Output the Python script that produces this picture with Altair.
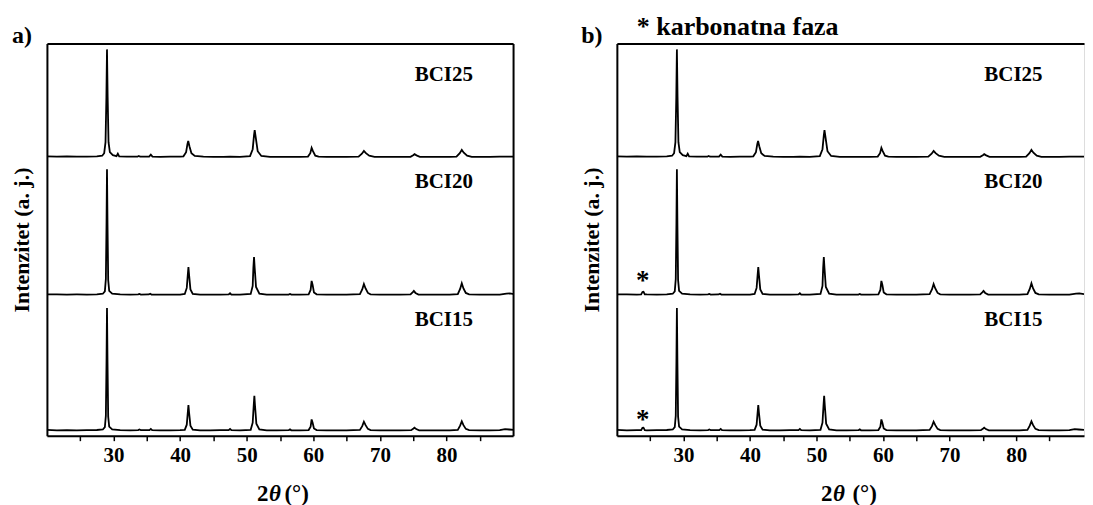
import altair as alt
import pandas as pd

SERIF = "Liberation Serif"

# ---------------- data (2theta in degrees, intensity above each trace's baseline) ----------------
x15 = [20.0, 21.5, 23.0, 24.5, 26.0, 27.5, 28.4, 28.7, 28.85, 28.95, 29.02, 29.1, 29.2, 29.35, 29.8,
       31.0, 32.5, 33.7, 33.9, 34.1, 35.4, 35.6, 35.8, 37.0, 38.5, 40.0, 40.7, 41.0, 41.15, 41.25,
       41.35, 41.55, 41.9, 43.0, 44.5, 46.0, 47.3, 47.5, 47.7, 49.0, 50.6, 50.9, 51.05, 51.15, 51.25,
       51.45, 51.9, 53.0, 54.5, 56.3, 56.5, 56.7, 58.0, 59.3, 59.6, 59.75, 59.9, 60.1, 60.5, 62.0,
       63.5, 65.0, 67.0, 67.35, 67.6, 67.85, 68.2, 68.6, 70.0, 71.5, 73.0, 74.7, 75.05, 75.2, 75.45,
       75.9, 77.5, 79.0, 80.5, 81.7, 82.05, 82.3, 82.55, 82.9, 83.4, 85.0, 86.5, 88.0, 88.8, 89.4, 90.2]
y15 = [0.8, 0.4, 0.6, 0.4, 0.5, 0.7, 1.2, 3.5, 15, 70, 123, 68, 14, 4, 1.3,
       0.6, 0.4, 0.6, 1.2, 0.5, 0.6, 1.8, 0.5, 0.4, 0.3, 0.5, 0.9, 6, 18, 25.7,
       18, 5, 1.0, 0.4, 0.3, 0.5, 0.6, 1.8, 0.5, 0.4, 0.9, 8, 25, 35, 25,
       7, 1.2, 0.4, 0.3, 0.5, 1.3, 0.4, 0.3, 0.6, 4, 11.3, 8, 2.2, 0.6, 0.3,
       0.4, 0.3, 0.8, 4.5, 9, 5.5, 1.8, 0.6, 0.3, 0.4, 0.3, 0.5, 2.2, 3, 1.6,
       0.4, 0.3, 0.4, 0.3, 0.8, 5, 9.3, 5.5, 1.8, 0.6, 0.3, 0.4, 0.5, 1.5, 1.2, 0.8]

x20 = [20.0, 21.5, 23.0, 24.5, 26.0, 27.5, 28.4, 28.7, 28.85, 28.95, 29.02, 29.1, 29.2, 29.35, 29.8,
       31.0, 32.5, 33.7, 33.9, 34.1, 35.3, 35.5, 35.7, 37.0, 38.5, 40.0, 40.7, 41.0, 41.15, 41.25,
       41.35, 41.55, 41.9, 43.0, 44.5, 46.0, 47.3, 47.5, 47.7, 49.0, 50.6, 50.9, 51.0, 51.1, 51.2,
       51.4, 51.9, 53.0, 54.5, 56.3, 56.5, 56.7, 58.0, 59.3, 59.6, 59.75, 59.9, 60.1, 60.5, 62.0,
       63.5, 65.0, 67.0, 67.35, 67.6, 67.85, 68.2, 68.6, 70.0, 71.5, 73.0, 74.6, 74.95, 75.1, 75.35,
       75.8, 77.5, 79.0, 80.5, 81.7, 82.05, 82.3, 82.55, 82.9, 83.4, 85.0, 86.5, 88.0, 89.0, 89.5, 90.2]
y20 = [0.5, 0.6, 0.4, 0.5, 0.4, 0.6, 1.2, 3.5, 16, 72, 126, 70, 15, 4, 1.3,
       0.5, 0.4, 0.5, 1.0, 0.4, 0.5, 1.2, 0.4, 0.3, 0.4, 0.4, 1.0, 7, 20, 28,
       20, 5.5, 1.0, 0.4, 0.3, 0.4, 0.5, 1.7, 0.4, 0.3, 1.0, 9, 27, 38, 27,
       8, 1.2, 0.4, 0.3, 0.4, 1.0, 0.3, 0.4, 0.6, 5, 14, 10, 2.5, 0.6, 0.3,
       0.4, 0.3, 0.9, 5.5, 11, 6.5, 2.0, 0.6, 0.3, 0.4, 0.3, 0.5, 2.8, 4, 2.0,
       0.4, 0.3, 0.4, 0.3, 0.9, 6, 11.7, 6.5, 2.0, 0.6, 0.3, 0.4, 0.4, 1.2, 1.6, 0.8]

x25 = [20.0, 21.5, 23.0, 24.5, 26.0, 27.5, 28.3, 28.6, 28.8, 28.93, 29.02, 29.12, 29.25, 29.45, 29.9,
       30.45, 30.65, 30.85, 32.0, 33.6, 33.8, 34.0, 35.35, 35.6, 35.85, 37.0, 38.5, 40.0, 40.5, 40.9,
       41.1, 41.22, 41.4, 41.7, 42.2, 43.5, 45.0, 46.5, 47.5, 49.0, 50.5, 50.9, 51.1, 51.2, 51.35,
       51.65, 52.2, 53.5, 55.0, 56.5, 58.0, 59.2, 59.55, 59.75, 59.95, 60.3, 60.8, 62.0, 63.5, 65.0,
       66.8, 67.3, 67.6, 67.9, 68.4, 69.2, 70.5, 72.0, 73.5, 74.6, 75.0, 75.2, 75.5, 76.0, 77.5,
       79.0, 80.5, 81.5, 82.0, 82.3, 82.6, 83.1, 83.8, 85.0, 86.5, 88.0, 89.0, 90.2]
y25 = [0.8, 0.6, 0.7, 0.5, 0.6, 0.8, 1.5, 4, 15, 60, 108, 60, 15, 5, 2.0,
       1.0, 3.5, 0.9, 0.5, 0.5, 1.2, 0.5, 0.6, 2.5, 0.6, 0.4, 0.5, 0.6, 0.9, 5,
       13, 16.3, 11, 4, 1.2, 0.5, 0.3, 0.4, 0.6, 0.4, 1.0, 8, 22, 27, 20,
       6, 1.2, 0.4, 0.3, 0.4, 0.4, 0.6, 4, 9.3, 6, 1.5, 0.5, 0.3, 0.4, 0.3,
       0.6, 3.5, 6.3, 4, 1.5, 0.4, 0.3, 0.4, 0.3, 0.4, 2, 3, 1.8, 0.4, 0.3,
       0.4, 0.3, 0.6, 4, 7.3, 4.5, 1.5, 0.4, 0.3, 0.4, 0.5, 0.6, 0.5]

# carbonate reflection (panel b only) for BCI20 and BCI15
xc = [23.65, 23.85, 24.0, 24.2]
yc20 = [0.5, 3.0, 3.2, 0.6]
yc15 = [0.5, 2.8, 3.0, 0.6]

samples = ["BCI15", "BCI20", "BCI25"]
baseline_level = {"BCI15": 5, "BCI20": 141, "BCI25": 279}

label_x = [79.6, 79.6, 79.6]
label_y = [116, 254, 361]
star_x = [23.9, 23.9]
star_y = [22, 161]


def trace_frame(include_carbonate):
    rows = []
    sets = {"BCI15": (x15, y15), "BCI20": (x20, y20), "BCI25": (x25, y25)}
    extra = {"BCI15": (xc, yc15), "BCI20": (xc, yc20)}
    for s in samples:
        xs, ys = list(sets[s][0]), list(sets[s][1])
        if include_carbonate and s in extra:
            xs = xs + extra[s][0]
            ys = ys + extra[s][1]
        for xv, yv in zip(xs, ys):
            rows.append({"x": xv, "y": yv + baseline_level[s], "sample": s})
    df = pd.DataFrame(rows).sort_values(["sample", "x"])
    return df


W_A, W_B, H = 467, 468, 393
XMAX_A, XMAX_B = 90.0, 90.2

tick_vals = [25, 30, 35, 40, 45, 50, 55, 60, 65, 70, 75, 80, 85]


def bottom_axis():
    return alt.Axis(orient="bottom", values=tick_vals,
                    labelExpr="datum.value % 10 == 0 ? datum.label : ''",
                    tickSize=5, tickWidth=1.5, tickColor="black",
                    domainWidth=2, domainColor="black", grid=False,
                    labelFont=SERIF, labelFontSize=21, labelFontWeight="bold",
                    labelColor="black", labelPadding=4, title=None)


def left_axis():
    return alt.Axis(orient="left", ticks=False, labels=False, grid=False,
                    domainWidth=2, domainColor="black",
                    title="Intenzitet (a. j.)", titleFont=SERIF, titleFontSize=22,
                    titleFontWeight="bold", titleColor="black", titlePadding=13)


def panel(xmax, width, right_frame, letter, carbonate, x2_right, paren_left):
    df = trace_frame(carbonate)
    xs = alt.Scale(domain=[20, xmax], nice=False, zero=False)
    ys = alt.Scale(domain=[0, H], nice=False, zero=False)

    line = alt.Chart(df).mark_line(color="black", strokeWidth=1.8, clip=True).encode(
        x=alt.X("x:Q", scale=xs, axis=bottom_axis()),
        y=alt.Y("y:Q", scale=ys, axis=left_axis()),
        detail="sample:N",
        order="x:Q",
    )

    lab_df = pd.DataFrame({"x": label_x, "y": label_y, "t": samples})
    top_ax = alt.Axis(orient="top", ticks=False, labels=False, grid=False,
                      domainWidth=2, domainColor="black", title=None)
    if right_frame:
        right_ax = alt.Axis(orient="right", ticks=False, labels=False, grid=False,
                            domainWidth=2, domainColor="black", title=None)
    else:
        right_ax = None
    labels = alt.Chart(lab_df).mark_text(font=SERIF, fontSize=21, fontWeight="bold",
                                          color="black", baseline="middle", align="center").encode(
        x=alt.X("x:Q", scale=xs, axis=top_ax),
        y=alt.Y("y:Q", scale=ys, axis=right_ax),
        text="t:N",
    )

    one = pd.DataFrame({"k": [0]})
    txt = dict(font=SERIF, fontWeight="bold", color="black", baseline="middle")
    letter_m = alt.Chart(one).mark_text(text=letter, fontSize=24, align="center", **txt).encode(
        x=alt.value(-25), y=alt.value(-7))
    two = alt.Chart(one).mark_text(text="2", fontSize=23, align="right", **txt).encode(
        x=alt.value(x2_right), y=alt.value(451))
    theta = alt.Chart(one).mark_text(text="θ", fontSize=23, align="left", fontStyle="italic", **txt).encode(
        x=alt.value(x2_right + 0.5), y=alt.value(451))
    paren = alt.Chart(one).mark_text(text="(°)", fontSize=23, align="left", **txt).encode(
        x=alt.value(paren_left), y=alt.value(451))

    layers = [line, labels, letter_m, two, theta, paren]

    if carbonate:
        star_df = pd.DataFrame({"x": star_x, "y": star_y})
        stars = alt.Chart(star_df).mark_text(text="*", font=SERIF, fontSize=27, fontWeight="bold",
                                             color="black", baseline="middle", align="center", dy=6).encode(
            x=alt.X("x:Q", scale=xs, axis=None), y=alt.Y("y:Q", scale=ys, axis=None))
        legend_txt = alt.Chart(one).mark_text(text="* karbonatna faza", fontSize=26, align="left",
                                              font=SERIF, fontWeight="bold", color="black",
                                              baseline="alphabetic").encode(
            x=alt.value(20), y=alt.value(-8))
        layers += [stars, legend_txt]

    return alt.layer(*layers).resolve_axis(x="independent", y="independent").properties(
        width=width, height=H)


panel_a = panel(XMAX_A, W_A, True, "a)", False, 222, 238)
panel_b = panel(XMAX_B, W_B, False, "b)", True, 216, 236)

chart = alt.hconcat(panel_a, panel_b, spacing=104, bounds="flush").properties(
    padding={"left": 2, "top": 5, "right": 0, "bottom": 0}
).configure_view(strokeWidth=0).configure(background="white")

chart.save("out.html", embed_options={"renderer": "svg", "actions": False})
